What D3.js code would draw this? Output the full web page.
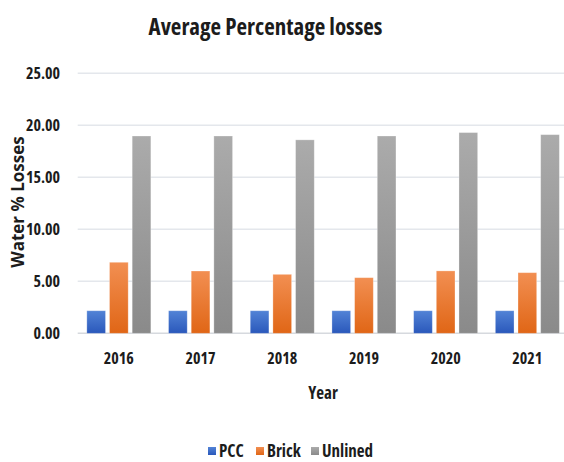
<!DOCTYPE html>
<html>
<head>
<meta charset="utf-8">
<script src="https://cdn.jsdelivr.net/npm/d3@7/dist/d3.min.js"></script>
<style>
  html, body { margin: 0; padding: 0; background: #ffffff; }
  svg { display: block; }
  text { font-family: "Open Sans", sans-serif; font-stretch: condensed; font-weight: bold; fill: #1c1c1c; }
</style>
</head>
<body>
<script>
const years = ["2016", "2017", "2018", "2019", "2020", "2021"];
const seriesNames = ["PCC", "Brick", "Unlined"];
const pccValues = [2.17, 2.17, 2.17, 2.17, 2.17, 2.17];
const brickValues = [6.83, 5.99, 5.67, 5.35, 6.00, 5.83];
const unlinedValues = [18.97, 18.97, 18.60, 18.97, 19.30, 19.10];
const yTicks = [0, 5, 10, 15, 20, 25];

const W = 564, H = 462;
const svg = d3.select("body").append("svg").attr("width", W).attr("height", H);

const colors = {
  PCC: ["#5283d6", "#2a58bb"],
  Brick: ["#f28f52", "#e06616"],
  Unlined: ["#ababab", "#8a8a8a"]
};
const defs = svg.append("defs");
seriesNames.forEach((s, i) => {
  const g = defs.append("linearGradient").attr("id", "grad" + i)
    .attr("x1", 0).attr("y1", 0).attr("x2", 0).attr("y2", 1);
  g.append("stop").attr("offset", "0%").attr("stop-color", colors[s][0]);
  g.append("stop").attr("offset", "100%").attr("stop-color", colors[s][1]);
});

const data = years.map((y, i) => ({
  year: y,
  vals: [
    { key: "PCC", value: pccValues[i], idx: 0 },
    { key: "Brick", value: brickValues[i], idx: 1 },
    { key: "Unlined", value: unlinedValues[i], idx: 2 }
  ]
}));

const x0 = d3.scaleBand().domain(years).range([78, 568.2]).paddingInner(0).paddingOuter(0);
const x1 = d3.scaleBand().domain(seriesNames).range([0, x0.bandwidth()]).paddingInner(0.176).paddingOuter(0.39);
const y = d3.scaleLinear().domain([0, 25]).range([333.3, 73.3]);

// y tick labels
const yAxis = d3.axisLeft(y).tickValues(yTicks).tickSize(0).tickPadding(0).tickFormat(d3.format(".2f"));
const gy = svg.append("g").attr("transform", "translate(60,0)").call(yAxis);
gy.select(".domain").remove();
gy.selectAll("text").attr("font-size", 16).attr("fill", "#1c1c1c")
  .style("font-family", "'Open Sans', sans-serif");

// gridlines
svg.append("g").selectAll("line").data(yTicks).join("line")
  .attr("x1", 77.7).attr("x2", W)
  .attr("y1", d => y(d)).attr("y2", d => y(d))
  .attr("stroke", d => d === 0 ? "#d6d9de" : "#e4e7ec").attr("stroke-width", 1.6);

// bars
const groups = svg.append("g").selectAll("g").data(data).join("g")
  .attr("transform", d => `translate(${x0(d.year)},0)`);
groups.selectAll("rect").data(d => d.vals).join("rect")
  .attr("x", d => x1(d.key))
  .attr("width", x1.bandwidth())
  .attr("y", d => y(d.value))
  .attr("height", d => y(0) - y(d.value))
  .attr("fill", d => `url(#grad${d.idx})`)
  .attr("stroke", "rgba(255,255,255,0.35)").attr("stroke-width", 0.8);

// x axis labels
const xAxis = d3.axisBottom(x0).tickSize(0).tickPadding(0);
const gx = svg.append("g").attr("transform", "translate(0,352.5)").call(xAxis);
gx.select(".domain").remove();
gx.selectAll("text").attr("font-size", 16).attr("fill", "#1c1c1c")
  .attr("dy", "0.71em")
  .style("font-family", "'Open Sans', sans-serif");

// title
svg.append("text").attr("x", 265.5).attr("y", 35).attr("text-anchor", "middle")
  .attr("font-size", 23).text("Average Percentage losses");

// axis titles
svg.append("text").attr("x", 323).attr("y", 399).attr("text-anchor", "middle")
  .attr("font-size", 17).text("Year");
svg.append("text").attr("transform", "translate(24,202) rotate(-90)").attr("text-anchor", "middle")
  .style("font-stretch", "normal")
  .attr("font-size", 17).text("Water % Losses");

// legend
const legendX = [208, 256, 311];
const lg = svg.append("g").selectAll("g").data(seriesNames).join("g")
  .attr("transform", (d, i) => `translate(${legendX[i]},447)`);
lg.append("rect").attr("width", 8).attr("height", 8).attr("fill", (d, i) => `url(#grad${i})`);
lg.append("text").attr("x", 11).attr("y", 9.5).attr("font-size", 17).text(d => d);
</script>
</body>
</html>
